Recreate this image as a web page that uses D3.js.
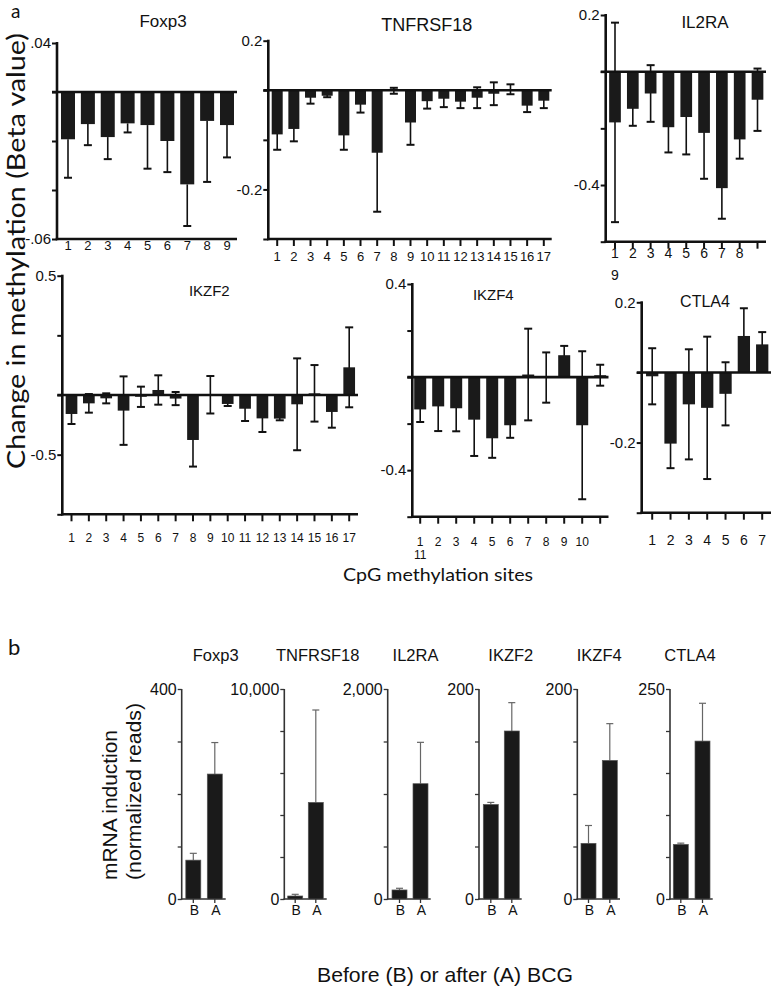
<!DOCTYPE html>
<html><head><meta charset="utf-8">
<script src="https://cdn.jsdelivr.net/npm/d3@7"></script>
<style>
html,body{margin:0;padding:0;background:#fff;}
svg{display:block;}
text{font-family:"Liberation Sans",Arial,sans-serif;fill:#111;}
</style></head>
<body>
<script>
// ---------------- DATA ----------------
// Panel a: change in methylation (beta value) per CpG site
const methGenes = ["Foxp3","TNFRSF18","IL2RA","IKZF2","IKZF4","CTLA4"];

const foxp3Vals = [-0.0193,-0.0131,-0.0184,-0.0128,-0.0135,-0.0200,-0.0377,-0.0118,-0.0135];
const foxp3Errs = [0.0157,0.0086,0.0090,0.0037,0.0178,0.0127,0.0170,0.0249,0.0132];
const foxp3Ticks = [0.02,0,-0.02,-0.04,-0.06];
const foxp3TickLabels = [".04","","","","-.06"];

const tnfVals = [-0.089,-0.078,-0.015,-0.011,-0.091,-0.029,-0.126,-0.001,-0.065,-0.022,-0.017,-0.023,-0.015,-0.007,0.002,-0.031,-0.021];
const tnfErrs = [0.031,0.025,0.012,0.003,0.029,0.016,0.119,0.006,0.045,0.015,0.017,0.013,0.021,0.023,0.010,0.013,0.015];
const tnfTicks = [0.1,0,-0.1,-0.2,-0.3];
const tnfTickLabels = ["0.2","","","-0.2",""];

const il2Vals = [-0.179,-0.131,-0.077,-0.196,-0.160,-0.216,-0.411,-0.239,-0.099];
const il2Errs = [0.352,0.060,0.100,0.089,0.132,0.162,0.108,0.068,0.110];
const il2Ticks = [0.2,0,-0.2,-0.4,-0.6];
const il2TickLabels = ["0.2","","","-0.4",""];

const ikzf2Vals = [-0.159,-0.070,-0.028,-0.131,-0.015,0.042,-0.030,-0.377,0.002,-0.075,-0.115,-0.196,-0.198,-0.078,0.014,-0.142,0.232];
const ikzf2Errs = [0.084,0.078,0.042,0.287,0.085,0.123,0.055,0.223,0.157,0.017,0.103,0.114,0.014,0.385,0.237,0.132,0.335];
const ikzf2Ticks = [1,0.5,0,-0.5,-1];
const ikzf2TickLabels = ["0.5","","","-0.5",""];

const ikzf4Vals = [-0.139,-0.126,-0.134,-0.183,-0.263,-0.207,0.011,-0.002,0.094,-0.207,0.008];
const ikzf4Errs = [0.054,0.106,0.099,0.156,0.084,0.054,0.197,0.108,0.040,0.318,0.045];
const ikzf4Ticks = [0.4,0.2,0,-0.2,-0.4,-0.6];
const ikzf4TickLabels = ["0.4","","","","-0.4",""];

const ctla4Vals = [-0.011,-0.203,-0.091,-0.101,-0.061,0.104,0.080];
const ctla4Errs = [0.080,0.070,0.157,0.203,0.090,0.079,0.035];
const ctla4Ticks = [0.2,0,-0.2,-0.4];
const ctla4TickLabels = ["0.2","","-0.2",""];

// Panel b: mRNA induction (normalized reads)
const mrnaGenes = ["Foxp3","TNFRSF18","IL2RA","IKZF2","IKZF4","CTLA4"];
const mrnaGroups = ["B","A"];
const mrnaBefore = [74,143,86,90,53,65];
const mrnaBeforeErr = [13,80,16,2,17,1.5];
const mrnaAfter = [238,4600,1098,160,132,188];
const mrnaAfterErr = [60,4400,394,27,35,45];
const mrnaMax = [400,10000,2000,200,200,250];
const mrnaStep = [100,2000,500,50,50,50];
const mrnaTopLabels = ["400","10,000","2,000","200","200","250"];

// ---------------- LAYOUT ----------------
const W = 771, H = 988;
const svg = d3.select("body").append("svg").attr("width",W).attr("height",H);

const methPanels = [
  {vals:foxp3Vals, errs:foxp3Errs, ticks:foxp3Ticks, tl:foxp3TickLabels, oneSided:true,
   ax:57, yTop:43, yBot:239, xEnd:237, c1:68, cn:227, bw:14, xticks:false,
   labY:250, labFs:13, wrapAt:null, title:[163,27,17]},
  {vals:tnfVals, errs:tnfErrs, ticks:tnfTicks, tl:tnfTickLabels,
   ax:268.3, yTop:40.7, yBot:239, xEnd:551.7, c1:277.2, cn:543.8, bw:11, xticks:true,
   labY:261, labFs:13, wrapAt:null, title:[426.7,30.5,18]},
  {vals:il2Vals, errs:il2Errs, ticks:il2Ticks, tl:il2TickLabels,
   ax:605.7, yTop:15, yBot:241.7, xEnd:766, c1:615, cn:757.5, bw:11.7, xticks:true,
   labY:258, labFs:14, wrapAt:8, wrapDy:22, title:[705,28.3,17]},
  {vals:ikzf2Vals, errs:ikzf2Errs, ticks:ikzf2Ticks, tl:ikzf2TickLabels,
   ax:62.3, yTop:275.7, yBot:514.3, xEnd:358, c1:71.5, cn:349.2, bw:11.7, xticks:true,
   labY:541.7, labFs:12, wrapAt:null, title:[209.3,296,15]},
  {vals:ikzf4Vals, errs:ikzf4Errs, ticks:ikzf4Ticks, tl:ikzf4TickLabels,
   ax:412.3, yTop:284, yBot:516.7, xEnd:608.5, c1:420.2, cn:600.2, bw:12, xticks:true,
   labY:545.5, labFs:12, wrapAt:10, wrapDy:13.6, title:[493.3,300,15]},
  {vals:ctla4Vals, errs:ctla4Errs, ticks:ctla4Ticks, tl:ctla4TickLabels,
   ax:641.7, yTop:302.3, yBot:512.7, xEnd:771, c1:652.2, cn:762.2, bw:12.3, xticks:true,
   labY:545, labFs:14, wrapAt:null, title:[705,306.7,16]}
];

const BAR = "#1a1a1a";

methPanels.forEach((p, gi) => {
  const g = svg.append("g");
  const n = p.vals.length;
  const sites = d3.range(1, n + 1);
  const y = d3.scaleLinear().domain([d3.min(p.ticks), d3.max(p.ticks)]).range([p.yBot, p.yTop]);
  const x = d3.scaleLinear().domain([1, n]).range([p.c1, p.cn]);

  // y axis
  const yAxis = d3.axisLeft(y).tickValues(p.ticks)
    .tickFormat((d, i) => p.tl[i]).tickSize(5).tickSizeOuter(0).tickPadding(1);
  const ya = g.append("g").attr("transform", `translate(${p.ax},0)`).call(yAxis);
  ya.select(".domain").remove();
  ya.selectAll(".tick line").attr("stroke", "#111").attr("stroke-width", 2);
  ya.selectAll(".tick text").style("font-size", "15px").attr("fill", "#111")
    .style("font-family", '"Liberation Sans",Arial,sans-serif');
  g.append("line").attr("x1", p.ax).attr("x2", p.ax).attr("y1", y.range()[1] - 1).attr("y2", p.yBot + 1.2)
    .attr("stroke", "#111").attr("stroke-width", 2.6);

  // x axis line
  g.append("line").attr("x1", p.ax - 1.3).attr("x2", p.xEnd).attr("y1", p.yBot).attr("y2", p.yBot)
    .attr("stroke", "#111").attr("stroke-width", 2.6);
  if (p.xticks) {
    g.selectAll(".xt").data(sites).enter().append("line")
      .attr("x1", d => x(d)).attr("x2", d => x(d))
      .attr("y1", p.yBot).attr("y2", p.yBot + 7)
      .attr("stroke", "#111").attr("stroke-width", 2);
  }
  // x labels
  g.selectAll(".xl").data(sites).enter().append("text")
    .attr("x", (d, i) => (p.wrapAt !== null && i >= p.wrapAt) ? x(d - p.wrapAt) : x(d))
    .attr("y", (d, i) => (p.wrapAt !== null && i >= p.wrapAt) ? p.labY + p.wrapDy : p.labY)
    .attr("text-anchor", "middle").style("font-size", p.labFs + "px")
    .text(d => String(d));

  // error bars (drawn under bars)
  const eb = g.append("g").attr("stroke", "#111").attr("stroke-width", 1.6);
  sites.forEach((s, i) => {
    const v = p.vals[i], e = p.errs[i];
    const cx = x(s), cap = 4;
    if (p.oneSided) {
      const end = v < 0 ? v - e : v + e;
      eb.append("line").attr("x1", cx).attr("x2", cx).attr("y1", y(v)).attr("y2", y(end));
      eb.append("line").attr("x1", cx - cap).attr("x2", cx + cap).attr("y1", y(end)).attr("y2", y(end)).attr("stroke-width", 2);
    } else {
      const lo = v - e, hi = v + e;
      eb.append("line").attr("x1", cx).attr("x2", cx).attr("y1", y(lo)).attr("y2", y(hi));
      eb.append("line").attr("x1", cx - cap).attr("x2", cx + cap).attr("y1", y(lo)).attr("y2", y(lo)).attr("stroke-width", 2);
      eb.append("line").attr("x1", cx - cap).attr("x2", cx + cap).attr("y1", y(hi)).attr("y2", y(hi)).attr("stroke-width", 2);
    }
  });

  // bars
  g.selectAll(".bar").data(sites).enter().append("rect")
    .attr("x", d => x(d) - p.bw / 2).attr("width", p.bw)
    .attr("y", (d, i) => y(Math.max(0, p.vals[i])))
    .attr("height", (d, i) => Math.abs(y(p.vals[i]) - y(0)))
    .attr("fill", BAR);

  // zero line
  g.append("line").attr("x1", p.ax - 5).attr("x2", p.xEnd).attr("y1", y(0)).attr("y2", y(0))
    .attr("stroke", "#111").attr("stroke-width", 2.6);

  // title
  g.append("text").attr("x", p.title[0]).attr("y", p.title[1]).attr("text-anchor", "middle")
    .style("font-size", p.title[2] + "px").text(methGenes[gi]);
});

// panel a labels
svg.append("text").attr("x", 11).attr("y", 18).style("font-family", "Lato, 'Open Sans', sans-serif")
  .style("font-size", "19px").text("a");
svg.append("text").attr("transform", "translate(25,251) rotate(-90)").attr("text-anchor", "middle")
  .style("font-family", "Lato, 'Open Sans', sans-serif").style("font-size", "25px")
  .attr("textLength", 436).attr("lengthAdjust", "spacingAndGlyphs")
  .text("Change in methylation (Beta value)");
svg.append("text").attr("x", 343).attr("y", 580.5)
  .style("font-family", "Lato, 'Open Sans', sans-serif").style("font-size", "18px")
  .attr("textLength", 190).attr("lengthAdjust", "spacingAndGlyphs")
  .text("CpG methylation sites");

// ---------------- PANEL b ----------------
const bLayout = [
  {ax:181.7, cB:193.3, cA:214.8, xEnd:225.7, tx:215.7},
  {ax:284.3, cB:295.2, cA:315.8, xEnd:326.7, tx:317.7},
  {ax:387.7, cB:399.5, cA:420.5, xEnd:430.7, tx:415.5},
  {ax:479,   cB:490.8, cA:511.8, xEnd:521.7, tx:510.8},
  {ax:577.3, cB:588.5, cA:609.8, xEnd:620,   tx:599.2},
  {ax:670,   cB:680.8, cA:702.5, xEnd:712.7, tx:690}
];
const bTop = 689, bZero = 899, bBw = 15;
const AX2 = "#333";

mrnaGenes.forEach((gene, i) => {
  const L = bLayout[i];
  const g = svg.append("g");
  const y = d3.scaleLinear().domain([0, mrnaMax[i]]).range([bZero, bTop]);
  const x = d3.scalePoint().domain(mrnaGroups).range([L.cB, L.cA]);
  const ticks = d3.range(0, mrnaMax[i] + mrnaStep[i] / 2, mrnaStep[i]);

  const yAxis = d3.axisLeft(y).tickValues(ticks)
    .tickFormat(d => d === 0 ? "0" : (d === mrnaMax[i] ? mrnaTopLabels[i] : ""))
    .tickSize(4).tickSizeOuter(0).tickPadding(1);
  const ya = g.append("g").attr("transform", `translate(${L.ax},0)`).call(yAxis);
  ya.select(".domain").remove();
  ya.selectAll(".tick line").attr("stroke", AX2).attr("stroke-width", 1.3);
  ya.selectAll(".tick text").style("font-size", "16px").attr("fill", "#111")
    .style("font-family", '"Liberation Sans",Arial,sans-serif');
  g.append("line").attr("x1", L.ax).attr("x2", L.ax).attr("y1", bTop).attr("y2", bZero + 0.7)
    .attr("stroke", AX2).attr("stroke-width", 1.6);
  g.append("line").attr("x1", L.ax - 0.8).attr("x2", L.xEnd).attr("y1", bZero).attr("y2", bZero)
    .attr("stroke", AX2).attr("stroke-width", 1.6);

  const means = [mrnaBefore[i], mrnaAfter[i]];
  const errs = [mrnaBeforeErr[i], mrnaAfterErr[i]];

  mrnaGroups.forEach((grp, k) => {
    const cx = x(grp);
    g.append("line").attr("x1", cx).attr("x2", cx).attr("y1", y(means[k])).attr("y2", y(means[k] + errs[k]))
      .attr("stroke", "#666").attr("stroke-width", 1.2);
    g.append("line").attr("x1", cx - 3.5).attr("x2", cx + 3.5)
      .attr("y1", y(means[k] + errs[k])).attr("y2", y(means[k] + errs[k]))
      .attr("stroke", "#666").attr("stroke-width", 1.2);
    g.append("rect").attr("x", cx - bBw / 2).attr("width", bBw)
      .attr("y", y(means[k])).attr("height", bZero - y(means[k]))
      .attr("fill", BAR).attr("stroke", "#555").attr("stroke-width", 0.7);
    g.append("line").attr("x1", cx).attr("x2", cx).attr("y1", bZero).attr("y2", bZero + 4)
      .attr("stroke", AX2).attr("stroke-width", 1.3);
    g.append("text").attr("x", cx + 1).attr("y", 914.5).attr("text-anchor", "middle")
      .style("font-size", "14px").text(grp);
  });

  g.append("text").attr("x", L.tx).attr("y", 661).attr("text-anchor", "middle")
    .style("font-size", "16.5px").text(gene);
});

svg.append("text").attr("x", 8).attr("y", 655).style("font-family", "Lato, 'Open Sans', sans-serif")
  .style("font-size", "22px").text("b");
svg.append("text").attr("transform", "translate(117,880) rotate(-90)")
  .style("font-size", "20px").attr("textLength", 150).attr("lengthAdjust", "spacingAndGlyphs")
  .text("mRNA induction");
svg.append("text").attr("transform", "translate(141,880) rotate(-90)")
  .style("font-size", "20px").attr("textLength", 177).attr("lengthAdjust", "spacingAndGlyphs")
  .text("(normalized reads)");
svg.append("text").attr("x", 317).attr("y", 982)
  .style("font-size", "21px").attr("textLength", 256).attr("lengthAdjust", "spacingAndGlyphs")
  .text("Before (B) or after (A) BCG");
</script>
</body></html>
